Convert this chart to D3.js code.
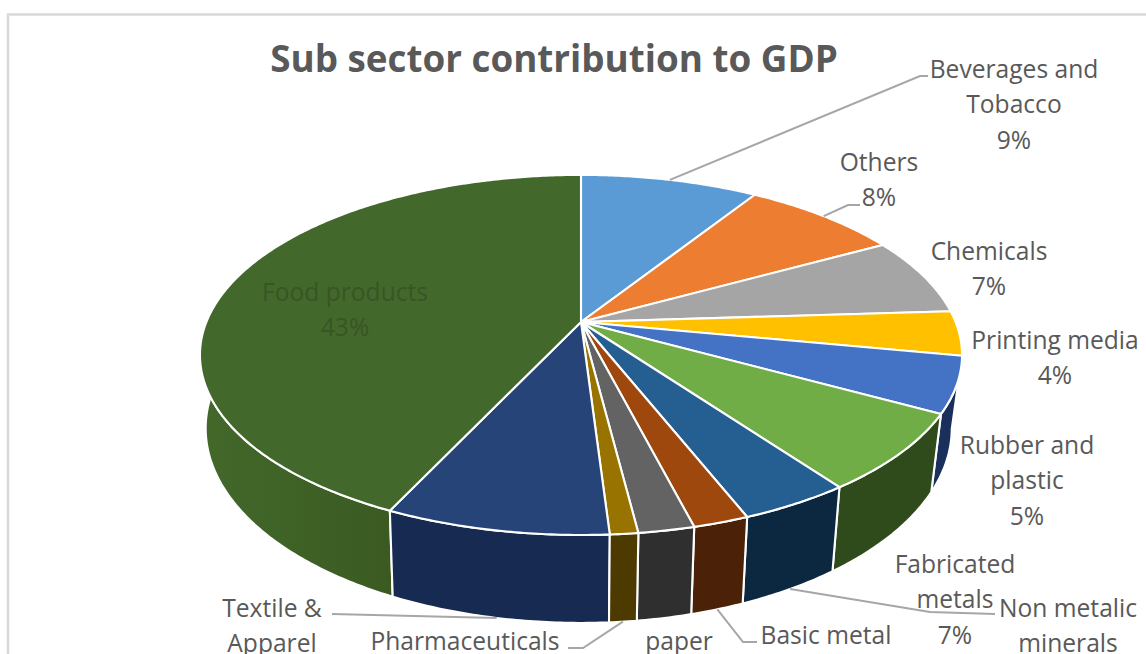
<!DOCTYPE html>
<html>
<head>
<meta charset="utf-8">
<script src="https://cdn.jsdelivr.net/npm/d3@7/dist/d3.min.js"></script>
<style>
  html, body { margin: 0; padding: 0; background: #fff; overflow: hidden; }
  text { font-family: "Open Sans", "Noto Sans", sans-serif; fill: #595959; }
</style>
</head>
<body>
<svg id="chart" width="1146" height="654"></svg>
<script>
// Share of each manufacturing sub sector, in chart order (clockwise from twelve o'clock)
const sectors = ["Beverages and Tobacco", "Others", "Chemicals", "Printing media", "Rubber and plastic",
  "Fabricated metals", "Non metalic minerals", "Basic metal", "paper", "Pharmaceuticals",
  "Textile & Apparel", "Food products"];
const shares = [9, 8, 7, 4, 5, 7, 4, 2, 2, 1, 8, 43];
const topColors = ["#5b9bd5", "#ed7d31", "#a5a5a5", "#ffc000", "#4472c4", "#70ad47",
  "#255e91", "#9e480e", "#636363", "#997300", "#264478", "#43682b"];
const wallColors = ["#2b4d6e", "#77401a", "#535353", "#806000", "#1b2f5c", "#2f4a1b",
  "#0c2740", "#4b2207", "#2f2f2f", "#4d3a00", "#162a52", "url(#foodWall)"];

// Label placement: lines of text, centre x, first line middle y, leader elbow points
const labelLayout = [
  { lines: ["Beverages and", "Tobacco", "9%"], x: 1014, y: 68, leader: [[920, 76], [928, 76]] },
  { lines: ["Others", "8%"], x: 879, y: 161, leader: [[848, 205], [860, 205]] },
  { lines: ["Chemicals", "7%"], x: 989, y: 250 },
  { lines: ["Printing media", "4%"], x: 1055, y: 339 },
  { lines: ["Rubber and", "plastic", "5%"], x: 1027, y: 444 },
  { lines: ["Fabricated", "metals", "7%"], x: 955, y: 563 },
  { lines: ["Non metalic", "minerals"], x: 1068, y: 607, leader: [[930, 612], [995, 614]], base: true },
  { lines: ["Basic metal"], x: 826, y: 634, leader: [[743, 642], [757, 642]], base: true },
  { lines: ["paper"], x: 679, y: 640 },
  { lines: ["Pharmaceuticals"], x: 465, y: 640, leader: [[583, 648], [568, 648]], base: true },
  { lines: ["Textile &", "Apparel"], x: 272, y: 607, leader: [[332, 614]], base: true },
  { lines: ["Food products", "43%"], x: 345, y: 291, inside: true }
];

const lineGap = 35.5;
const labelSize = 24.6;

// Perspective view of the pie disc: hub position and foreshortening
const hub = { x: 581, y: 322 };
const perspective = { a: 374.6, b: 174, k: 0.183 };

// Project an angle on the disc (radians clockwise from the top) to the top face
function rim(angle) {
  const u = Math.sin(angle), v = -Math.cos(angle);
  const d = 1 - perspective.k * v;
  return [hub.x + perspective.a * u / d, hub.y + perspective.b * v / d];
}

// The lower face sits below the top one, slightly narrower and more open
function drop([x, y]) {
  const narrowing = x < hub.x ? 0.985 : 0.973;
  return [hub.x + narrowing * (x - hub.x), y + 78 + 0.081 * (y - 412)];
}

const svg = d3.select("#chart");

// The large wall catches a little more light towards its left end
const foodWall = svg.append("defs").append("linearGradient")
  .attr("id", "foodWall").attr("gradientUnits", "userSpaceOnUse")
  .attr("x1", 205).attr("x2", 392).attr("y1", 0).attr("y2", 0);
foodWall.append("stop").attr("offset", 0).attr("stop-color", "#43682a");
foodWall.append("stop").attr("offset", 1).attr("stop-color", "#3a5a22");

// Chart frame
svg.append("rect")
  .attr("x", 8).attr("y", 14.5).attr("width", 1200).attr("height", 700)
  .attr("fill", "#fff").attr("stroke", "#d9d9d9").attr("stroke-width", 2.5);

svg.append("text")
  .attr("x", 554).attr("y", 58)
  .attr("text-anchor", "middle").attr("dominant-baseline", "central")
  .attr("font-size", 36.8).attr("font-weight", 700)
  .text("Sub sector contribution to GDP");

const slices = d3.pie().sort(null).value(d => d)(shares)
  .map((s, i) => ({ ...s, i, mid: (s.startAngle + s.endAngle) / 2 }));

const path = d3.line();
const arcPoints = s => {
  const steps = Math.max(2, Math.ceil((s.endAngle - s.startAngle) / 0.01));
  return d3.range(steps + 1).map(j => rim(s.startAngle + (s.endAngle - s.startAngle) * j / steps));
};

// Outer walls, far ones first so the near ones overlap them
svg.append("g").selectAll("path")
  .data([...slices].sort((p, q) => Math.cos(q.mid) - Math.cos(p.mid)))
  .join("path")
  .attr("d", s => {
    const top = arcPoints(s);
    return path([...top, ...top.map(drop).reverse()]) + "Z";
  })
  .attr("fill", s => wallColors[s.i])
  .attr("stroke", "#fff").attr("stroke-width", 2.1).attr("stroke-linejoin", "round");

// Top face
svg.append("g").selectAll("path")
  .data(slices)
  .join("path")
  .attr("d", s => path([[hub.x, hub.y], ...arcPoints(s)]) + "Z")
  .attr("fill", s => topColors[s.i])
  .attr("stroke", "#fff").attr("stroke-width", 2.1).attr("stroke-linejoin", "round");

// Leader lines start on the rim of their slice: the upper rim for slices at the back, the lower one at the front
svg.append("g").selectAll("path")
  .data(labelLayout.map((l, i) => ({ ...l, slice: slices[i] })).filter(l => l.leader))
  .join("path")
  .attr("d", l => {
    const edge = rim(l.slice.mid);
    return path([l.base ? drop(edge) : edge, ...l.leader]);
  })
  .attr("fill", "none").attr("stroke", "#a6a6a6").attr("stroke-width", 2);

// Labels
const labels = svg.append("g").selectAll("text")
  .data(labelLayout)
  .join("text")
  .attr("text-anchor", "middle")
  .attr("font-size", labelSize)
  .style("fill", l => l.inside ? "#395526" : null);

labels.selectAll("tspan")
  .data(l => l.lines.map((t, j) => ({ t, x: l.x, y: l.y + j * lineGap })))
  .join("tspan")
  .attr("x", d => d.x)
  .attr("y", d => d.y)
  .attr("dominant-baseline", "central")
  .text(d => d.t);
</script>
</body>
</html>
